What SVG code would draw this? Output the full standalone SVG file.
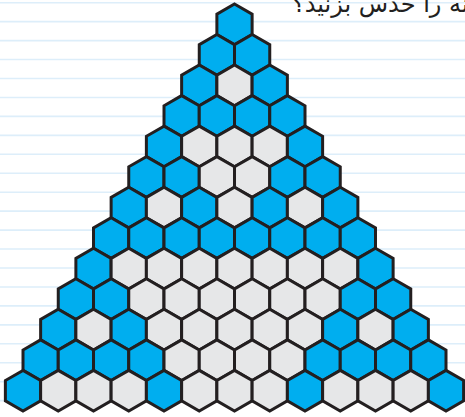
<svg xmlns="http://www.w3.org/2000/svg" xmlns:xlink="http://www.w3.org/1999/xlink" width="465" height="417" viewBox="0 0 465 417">
<style>
.ln{stroke:#DDEEFA;stroke-width:1.6}
.hx{stroke:#231F20;stroke-width:3;stroke-linejoin:miter}
.b{fill:#00AEEF}
.g{fill:#E6E7E8}
.q{font-family:"DejaVu Sans","Noto Sans",sans-serif;font-size:24px;fill:#231F20}
</style>
<defs>
<path id="h" class="hx" d="M0,-20.35L17.62,-10.18L17.62,10.18L0,20.35L-17.62,10.18L-17.62,-10.18Z"/>
</defs>
<rect width="465" height="417" fill="#fff"/>
<g id="paper-lines">
<line class="ln" x1="0" x2="465" y1="2.7" y2="2.7"/>
<line class="ln" x1="0" x2="465" y1="21.65" y2="21.65"/>
<line class="ln" x1="0" x2="465" y1="40.6" y2="40.6"/>
<line class="ln" x1="0" x2="465" y1="59.55" y2="59.55"/>
<line class="ln" x1="0" x2="465" y1="78.5" y2="78.5"/>
<line class="ln" x1="0" x2="465" y1="97.45" y2="97.45"/>
<line class="ln" x1="0" x2="465" y1="116.4" y2="116.4"/>
<line class="ln" x1="0" x2="465" y1="135.35" y2="135.35"/>
<line class="ln" x1="0" x2="465" y1="154.3" y2="154.3"/>
<line class="ln" x1="0" x2="465" y1="173.25" y2="173.25"/>
<line class="ln" x1="0" x2="465" y1="192.2" y2="192.2"/>
<line class="ln" x1="0" x2="465" y1="211.15" y2="211.15"/>
<line class="ln" x1="0" x2="465" y1="230.1" y2="230.1"/>
<line class="ln" x1="0" x2="465" y1="249.05" y2="249.05"/>
<line class="ln" x1="0" x2="465" y1="268" y2="268"/>
<line class="ln" x1="0" x2="465" y1="286.95" y2="286.95"/>
<line class="ln" x1="0" x2="465" y1="305.9" y2="305.9"/>
<line class="ln" x1="0" x2="465" y1="324.85" y2="324.85"/>
<line class="ln" x1="0" x2="465" y1="343.8" y2="343.8"/>
<line class="ln" x1="0" x2="465" y1="362.75" y2="362.75"/>
<line class="ln" x1="0" x2="465" y1="381.7" y2="381.7"/>
<line class="ln" x1="0" x2="465" y1="400.65" y2="400.65"/>
</g>
<text class="q" x="292" y="11.5" direction="rtl" text-anchor="end">خانه را حدس بزنید؟</text>
<g id="triangle">
<g id="r0c0"><use xlink:href="#h" x="234.5" y="24.35" class="b"/></g>
<g id="r1c0"><use xlink:href="#h" x="216.88" y="54.88" class="b"/></g>
<g id="r1c1"><use xlink:href="#h" x="252.13" y="54.88" class="b"/></g>
<g id="r2c0"><use xlink:href="#h" x="199.25" y="85.41" class="b"/></g>
<g id="r2c1"><use xlink:href="#h" x="234.5" y="85.41" class="g"/></g>
<g id="r2c2"><use xlink:href="#h" x="269.75" y="85.41" class="b"/></g>
<g id="r3c0"><use xlink:href="#h" x="181.63" y="115.94" class="b"/></g>
<g id="r3c1"><use xlink:href="#h" x="216.88" y="115.94" class="b"/></g>
<g id="r3c2"><use xlink:href="#h" x="252.13" y="115.94" class="b"/></g>
<g id="r3c3"><use xlink:href="#h" x="287.38" y="115.94" class="b"/></g>
<g id="r4c0"><use xlink:href="#h" x="164" y="146.47" class="b"/></g>
<g id="r4c1"><use xlink:href="#h" x="199.25" y="146.47" class="g"/></g>
<g id="r4c2"><use xlink:href="#h" x="234.5" y="146.47" class="g"/></g>
<g id="r4c3"><use xlink:href="#h" x="269.75" y="146.47" class="g"/></g>
<g id="r4c4"><use xlink:href="#h" x="305" y="146.47" class="b"/></g>
<g id="r5c0"><use xlink:href="#h" x="146.38" y="177" class="b"/></g>
<g id="r5c1"><use xlink:href="#h" x="181.63" y="177" class="b"/></g>
<g id="r5c2"><use xlink:href="#h" x="216.88" y="177" class="g"/></g>
<g id="r5c3"><use xlink:href="#h" x="252.13" y="177" class="g"/></g>
<g id="r5c4"><use xlink:href="#h" x="287.38" y="177" class="b"/></g>
<g id="r5c5"><use xlink:href="#h" x="322.63" y="177" class="b"/></g>
<g id="r6c0"><use xlink:href="#h" x="128.75" y="207.53" class="b"/></g>
<g id="r6c1"><use xlink:href="#h" x="164" y="207.53" class="g"/></g>
<g id="r6c2"><use xlink:href="#h" x="199.25" y="207.53" class="b"/></g>
<g id="r6c3"><use xlink:href="#h" x="234.5" y="207.53" class="g"/></g>
<g id="r6c4"><use xlink:href="#h" x="269.75" y="207.53" class="b"/></g>
<g id="r6c5"><use xlink:href="#h" x="305" y="207.53" class="g"/></g>
<g id="r6c6"><use xlink:href="#h" x="340.25" y="207.53" class="b"/></g>
<g id="r7c0"><use xlink:href="#h" x="111.13" y="238.06" class="b"/></g>
<g id="r7c1"><use xlink:href="#h" x="146.38" y="238.06" class="b"/></g>
<g id="r7c2"><use xlink:href="#h" x="181.63" y="238.06" class="b"/></g>
<g id="r7c3"><use xlink:href="#h" x="216.88" y="238.06" class="b"/></g>
<g id="r7c4"><use xlink:href="#h" x="252.13" y="238.06" class="b"/></g>
<g id="r7c5"><use xlink:href="#h" x="287.38" y="238.06" class="b"/></g>
<g id="r7c6"><use xlink:href="#h" x="322.63" y="238.06" class="b"/></g>
<g id="r7c7"><use xlink:href="#h" x="357.88" y="238.06" class="b"/></g>
<g id="r8c0"><use xlink:href="#h" x="93.5" y="268.59" class="b"/></g>
<g id="r8c1"><use xlink:href="#h" x="128.75" y="268.59" class="g"/></g>
<g id="r8c2"><use xlink:href="#h" x="164" y="268.59" class="g"/></g>
<g id="r8c3"><use xlink:href="#h" x="199.25" y="268.59" class="g"/></g>
<g id="r8c4"><use xlink:href="#h" x="234.5" y="268.59" class="g"/></g>
<g id="r8c5"><use xlink:href="#h" x="269.75" y="268.59" class="g"/></g>
<g id="r8c6"><use xlink:href="#h" x="305" y="268.59" class="g"/></g>
<g id="r8c7"><use xlink:href="#h" x="340.25" y="268.59" class="g"/></g>
<g id="r8c8"><use xlink:href="#h" x="375.5" y="268.59" class="b"/></g>
<g id="r9c0"><use xlink:href="#h" x="75.88" y="299.12" class="b"/></g>
<g id="r9c1"><use xlink:href="#h" x="111.13" y="299.12" class="b"/></g>
<g id="r9c2"><use xlink:href="#h" x="146.38" y="299.12" class="g"/></g>
<g id="r9c3"><use xlink:href="#h" x="181.63" y="299.12" class="g"/></g>
<g id="r9c4"><use xlink:href="#h" x="216.88" y="299.12" class="g"/></g>
<g id="r9c5"><use xlink:href="#h" x="252.13" y="299.12" class="g"/></g>
<g id="r9c6"><use xlink:href="#h" x="287.38" y="299.12" class="g"/></g>
<g id="r9c7"><use xlink:href="#h" x="322.63" y="299.12" class="g"/></g>
<g id="r9c8"><use xlink:href="#h" x="357.88" y="299.12" class="b"/></g>
<g id="r9c9"><use xlink:href="#h" x="393.13" y="299.12" class="b"/></g>
<g id="r10c0"><use xlink:href="#h" x="58.25" y="329.65" class="b"/></g>
<g id="r10c1"><use xlink:href="#h" x="93.5" y="329.65" class="g"/></g>
<g id="r10c2"><use xlink:href="#h" x="128.75" y="329.65" class="b"/></g>
<g id="r10c3"><use xlink:href="#h" x="164" y="329.65" class="g"/></g>
<g id="r10c4"><use xlink:href="#h" x="199.25" y="329.65" class="g"/></g>
<g id="r10c5"><use xlink:href="#h" x="234.5" y="329.65" class="g"/></g>
<g id="r10c6"><use xlink:href="#h" x="269.75" y="329.65" class="g"/></g>
<g id="r10c7"><use xlink:href="#h" x="305" y="329.65" class="g"/></g>
<g id="r10c8"><use xlink:href="#h" x="340.25" y="329.65" class="b"/></g>
<g id="r10c9"><use xlink:href="#h" x="375.5" y="329.65" class="g"/></g>
<g id="r10c10"><use xlink:href="#h" x="410.75" y="329.65" class="b"/></g>
<g id="r11c0"><use xlink:href="#h" x="40.63" y="360.18" class="b"/></g>
<g id="r11c1"><use xlink:href="#h" x="75.88" y="360.18" class="b"/></g>
<g id="r11c2"><use xlink:href="#h" x="111.13" y="360.18" class="b"/></g>
<g id="r11c3"><use xlink:href="#h" x="146.38" y="360.18" class="b"/></g>
<g id="r11c4"><use xlink:href="#h" x="181.63" y="360.18" class="g"/></g>
<g id="r11c5"><use xlink:href="#h" x="216.88" y="360.18" class="g"/></g>
<g id="r11c6"><use xlink:href="#h" x="252.13" y="360.18" class="g"/></g>
<g id="r11c7"><use xlink:href="#h" x="287.38" y="360.18" class="g"/></g>
<g id="r11c8"><use xlink:href="#h" x="322.63" y="360.18" class="b"/></g>
<g id="r11c9"><use xlink:href="#h" x="357.88" y="360.18" class="b"/></g>
<g id="r11c10"><use xlink:href="#h" x="393.13" y="360.18" class="b"/></g>
<g id="r11c11"><use xlink:href="#h" x="428.38" y="360.18" class="b"/></g>
<g id="r12c0"><use xlink:href="#h" x="23" y="390.71" class="b"/></g>
<g id="r12c1"><use xlink:href="#h" x="58.25" y="390.71" class="g"/></g>
<g id="r12c2"><use xlink:href="#h" x="93.5" y="390.71" class="g"/></g>
<g id="r12c3"><use xlink:href="#h" x="128.75" y="390.71" class="g"/></g>
<g id="r12c4"><use xlink:href="#h" x="164" y="390.71" class="b"/></g>
<g id="r12c5"><use xlink:href="#h" x="199.25" y="390.71" class="g"/></g>
<g id="r12c6"><use xlink:href="#h" x="234.5" y="390.71" class="g"/></g>
<g id="r12c7"><use xlink:href="#h" x="269.75" y="390.71" class="g"/></g>
<g id="r12c8"><use xlink:href="#h" x="305" y="390.71" class="b"/></g>
<g id="r12c9"><use xlink:href="#h" x="340.25" y="390.71" class="g"/></g>
<g id="r12c10"><use xlink:href="#h" x="375.5" y="390.71" class="g"/></g>
<g id="r12c11"><use xlink:href="#h" x="410.75" y="390.71" class="g"/></g>
<g id="r12c12"><use xlink:href="#h" x="446" y="390.71" class="b"/></g>
</g>
</svg>
